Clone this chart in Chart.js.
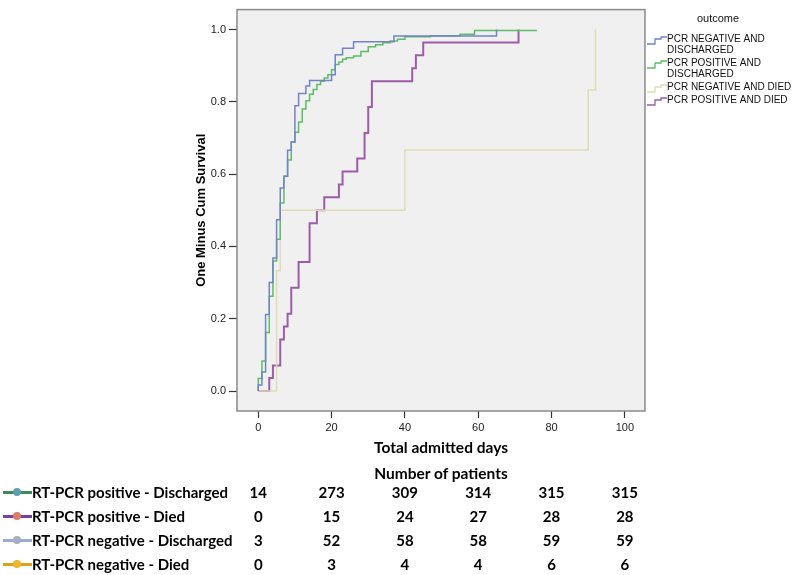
<!DOCTYPE html>
<html>
<head>
<meta charset="utf-8">
<script src="https://cdn.jsdelivr.net/npm/chart.js@4.4.1/dist/chart.umd.min.js"></script>
<style>
  html, body { margin: 0; padding: 0; background: #fff; }
  #wrap { position: relative; width: 795px; height: 575px; overflow: hidden; }
  #km { position: absolute; left: 0; top: 0; }
  .cell { position: absolute; font-family: Lato, sans-serif; font-weight: bold; font-size: 15px;
          color: #000; white-space: nowrap; line-height: 16px; height: 16px; }
  .num { transform: translateX(-50%); }
  .mark { position: absolute; height: 3px; width: 29px; left: 3px; }
  .dot { position: absolute; width: 8px; height: 8px; border-radius: 50%; left: 13px; }
</style>
</head>
<body>
<div id="wrap">
  <canvas id="km" width="795" height="575"></canvas>
  <div id="table"></div>
</div>
<script>
  // axis ticks
  const xTicks = [0, 20, 40, 60, 80, 100];
  const yTicks = [0, 0.2, 0.4, 0.6, 0.8, 1.0];

  // legend labels (SPSS style)
  const outcomeLabels = [
    ['PCR NEGATIVE AND', 'DISCHARGED'],
    ['PCR POSITIVE AND', 'DISCHARGED'],
    ['PCR NEGATIVE AND DIED'],
    ['PCR POSITIVE AND DIED']
  ];

  // one minus cum survival (day of step, value after step)
  const negDischargedDays = [0, 0, 1, 2, 3, 4, 5, 6, 7, 8, 9, 10, 11, 13, 14, 20, 21, 23, 26, 37, 65];
  const negDischargedVals = [0, 0.017, 0.053, 0.212, 0.300, 0.368, 0.474, 0.562, 0.594, 0.666, 0.689, 0.789, 0.823, 0.844, 0.859, 0.875, 0.930, 0.948, 0.966, 0.982, 1.0];

  const posDischargedDays = [0, 0, 1, 2, 3, 4, 5, 6, 7, 8, 9, 10, 11, 12, 13, 14, 15, 16, 17, 18, 19, 20, 21, 22, 23, 24, 26, 28, 30, 32, 34, 36, 38, 40, 47, 55, 59, 76];
  const posDischargedVals = [0, 0.035, 0.083, 0.162, 0.262, 0.360, 0.420, 0.520, 0.594, 0.639, 0.689, 0.716, 0.744, 0.780, 0.803, 0.821, 0.834, 0.848, 0.857, 0.866, 0.875, 0.889, 0.903, 0.910, 0.918, 0.922, 0.927, 0.939, 0.952, 0.958, 0.963, 0.968, 0.973, 0.980, 0.983, 0.987, 0.997, 0.997];

  const negDiedDays = [0, 5, 6, 40, 90, 92];
  const negDiedVals = [0, 0.333, 0.5, 0.667, 0.833, 1.0];

  const posDiedDays = [0, 3, 4, 6, 7, 8, 9, 11, 14, 16, 18, 22, 23, 27, 29, 30, 31, 42, 43, 45, 71];
  const posDiedVals = [0, 0.036, 0.071, 0.143, 0.179, 0.214, 0.286, 0.357, 0.464, 0.5, 0.536, 0.571, 0.607, 0.643, 0.714, 0.786, 0.857, 0.893, 0.929, 0.964, 1.0];

  const lineColors = ['#7283c8', '#5dbd63', '#e0dcb6', '#9c5ca7'];
  const lineWidths = [1.5, 1.5, 1.5, 2];

  // number at risk table
  const tableTitle = 'Number of patients';
  const tableLabels = ['RT-PCR positive - Discharged', 'RT-PCR positive - Died', 'RT-PCR negative - Discharged', 'RT-PCR negative - Died'];
  const posDischargedAtRisk = [14, 273, 309, 314, 315, 315];
  const posDiedAtRisk = [0, 15, 24, 27, 28, 28];
  const negDischargedAtRisk = [3, 52, 58, 58, 59, 59];
  const negDiedAtRisk = [0, 3, 4, 4, 6, 6];
  const markLineColors = ['#3f8a55', '#7b3fa3', '#98acd6', '#dca21c'];
  const markDotColors = ['#5f9fb0', '#e07b68', '#a7adc2', '#efb52c'];

  function toPoints(days, vals) {
    return days.map((d, i) => ({ x: d, y: vals[i] }));
  }

  const series = [
    toPoints(negDischargedDays, negDischargedVals),
    toPoints(posDischargedDays, posDischargedVals),
    toPoints(negDiedDays, negDiedVals),
    toPoints(posDiedDays, posDiedVals)
  ];

  // grey plot background + frame like SPSS
  const framePlugin = {
    id: 'frame',
    beforeDatasetsDraw(chart) {
      const { ctx, chartArea: a } = chart;
      ctx.save();
      ctx.fillStyle = '#f0f0f0';
      ctx.fillRect(a.left, a.top, a.right - a.left, a.bottom - a.top);
      ctx.restore();
    },
    afterDatasetsDraw(chart) {
      const { ctx, chartArea: a } = chart;
      ctx.save();
      ctx.strokeStyle = '#8a8a8a';
      ctx.lineWidth = 1.5;
      ctx.strokeRect(a.left, a.top, a.right - a.left, a.bottom - a.top);
      ctx.restore();
    }
  };

  // legend on the right with little step icons
  const outcomeLegend = {
    id: 'outcomeLegend',
    afterDraw(chart) {
      const { ctx, chartArea: a } = chart;
      const x0 = a.right + 2;
      ctx.save();
      ctx.font = '11px "Liberation Sans", Arial, sans-serif';
      ctx.fillStyle = '#111';
      ctx.textBaseline = 'middle';
      ctx.textAlign = 'center';
      ctx.fillText('outcome', 718, 19);
      ctx.textAlign = 'left';
      ctx.font = '10px "Liberation Sans", Arial, sans-serif';
      let y = 39;
      chart.data.datasets.forEach((ds) => {
        ctx.strokeStyle = ds.borderColor;
        ctx.lineWidth = 1.3;
        ctx.beginPath();
        ctx.moveTo(x0, y + 5);
        ctx.lineTo(x0 + 8, y + 5);
        ctx.lineTo(x0 + 8, y);
        ctx.lineTo(x0 + 14, y);
        ctx.lineTo(x0 + 14, y - 2);
        ctx.lineTo(x0 + 20, y - 2);
        ctx.stroke();
        ds.label.forEach((line, j) => {
          ctx.fillText(line, x0 + 20, y + j * 11);
        });
        y += ds.label.length * 11 + 2;
      });
      ctx.restore();
    }
  };

  const chart = new Chart(document.getElementById('km'), {
    type: 'line',
    data: {
      datasets: series.map((pts, i) => ({
        label: outcomeLabels[i],
        data: pts,
        borderColor: lineColors[i],
        borderWidth: lineWidths[i],
        stepped: 'before',
        pointRadius: 0,
        fill: false
      }))
    },
    options: {
      responsive: false,
      animation: false,
      layout: { padding: { left: 188, top: 4, right: 150, bottom: 114 } },
      plugins: {
        legend: { display: false },
        tooltip: { enabled: false }
      },
      scales: {
        x: {
          type: 'linear',
          min: -5.8,
          max: 105.5,
          afterFit: s => { s.height = 50; },
          afterBuildTicks: s => { s.ticks = xTicks.map(v => ({ value: v })); },
          grid: { drawOnChartArea: false, tickLength: 7, tickColor: '#333', tickWidth: 1.2 },
          border: { display: false },
          ticks: { padding: 3, color: '#222', font: { family: '"Liberation Sans", Arial, sans-serif', size: 11 }, maxRotation: 0 },
          title: {
            display: true,
            text: 'Total admitted days',
            color: '#000',
            font: { family: 'Lato, sans-serif', size: 15.5, weight: 'bold' },
            padding: { top: 0, bottom: 4 }
          }
        },
        y: {
          min: -0.055,
          max: 1.055,
          afterFit: s => { s.width = 49; },
          afterBuildTicks: s => { s.ticks = yTicks.map(v => ({ value: v })); },
          grid: { drawOnChartArea: false, tickLength: 8, tickColor: '#333', tickWidth: 1.2 },
          border: { display: false },
          ticks: {
            padding: 3,
            color: '#222',
            font: { family: '"Liberation Sans", Arial, sans-serif', size: 11 },
            callback: v => v.toFixed(1)
          },
          title: {
            display: true,
            text: 'One Minus Cum Survival',
            color: '#000',
            font: { family: '"Liberation Sans", Arial, sans-serif', size: 13, weight: 'bold' },
            padding: { top: 6, bottom: 0 }
          }
        }
      }
    },
    plugins: [framePlugin, outcomeLegend]
  });

  // number of patients table under the x axis
  const table = document.getElementById('table');
  const rows = [posDischargedAtRisk, posDiedAtRisk, negDischargedAtRisk, negDiedAtRisk];
  const rowY = [492, 516, 540, 564];
  const xs = chart.scales.x;

  const head = document.createElement('div');
  head.className = 'cell num';
  head.style.fontSize = '15.5px';
  head.textContent = tableTitle;
  head.style.left = ((chart.chartArea.left + chart.chartArea.right) / 2) + 'px';
  head.style.top = (473 - 8) + 'px';
  table.appendChild(head);

  rows.forEach((counts, r) => {
    const y = rowY[r];
    const line = document.createElement('div');
    line.className = 'mark';
    line.style.background = markLineColors[r];
    line.style.top = (y - 1.5) + 'px';
    table.appendChild(line);
    const dot = document.createElement('div');
    dot.className = 'dot';
    dot.style.background = markDotColors[r];
    dot.style.top = (y - 4) + 'px';
    table.appendChild(dot);

    const lab = document.createElement('div');
    lab.className = 'cell';
    lab.textContent = tableLabels[r];
    lab.style.left = '32px';
    lab.style.top = (y - 8) + 'px';
    table.appendChild(lab);

    counts.forEach((n, i) => {
      const c = document.createElement('div');
      c.className = 'cell num';
      c.textContent = n;
      c.style.left = xs.getPixelForValue(xTicks[i]) + 'px';
      c.style.top = (y - 8) + 'px';
      table.appendChild(c);
    });
  });
</script>
</body>
</html>
